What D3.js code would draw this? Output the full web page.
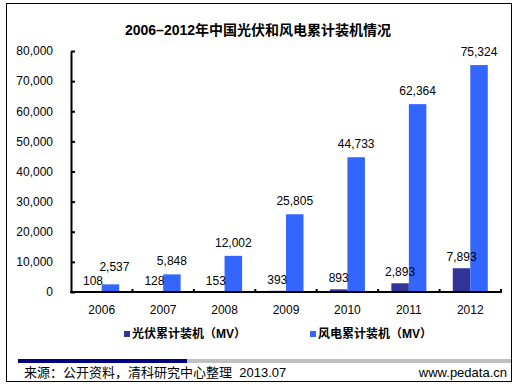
<!DOCTYPE html>
<html>
<head>
<meta charset="utf-8">
<script src="https://cdn.jsdelivr.net/npm/d3@7"></script>
<style>
  body { margin: 0; background: #fff; }
  text { font-family: "Liberation Sans", Arial, "Noto Sans CJK SC", sans-serif; fill: #000; }
  .cjk { font-family: "Liberation Sans", "Noto Sans CJK SC", sans-serif; }
</style>
</head>
<body>
<div id="chart"></div>
<script>
"use strict";

const years = ["2006", "2007", "2008", "2009", "2010", "2011", "2012"];
const solar = [108, 128, 153, 393, 893, 2893, 7893];
const wind = [2537, 5848, 12002, 25805, 44733, 62364, 75324];
const seriesNames = ["光伏累计装机（MV）", "风电累计装机（MV）"];
const seriesColors = ["#333399", "#3366ff"];
const yTicks = [0, 10000, 20000, 30000, 40000, 50000, 60000, 70000, 80000];

const W = 516, H = 389;
const svg = d3.select("#chart").append("svg")
  .attr("width", W).attr("height", H);

// outer frame
svg.append("rect")
  .attr("x", 6.5).attr("y", 3.5)
  .attr("width", 505).attr("height", 378)
  .attr("fill", "none").attr("stroke", "#000").attr("stroke-width", 1);

svg.append("text")
  .attr("class", "cjk")
  .attr("x", 258).attr("y", 35)
  .attr("text-anchor", "middle")
  .style("font-size", "14px").style("font-weight", "bold")
  .text("2006–2012年中国光伏和风电累计装机情况");

const x0 = d3.scaleBand().domain(years).range([71, 501])
  .paddingInner(0.43).paddingOuter(0.215);
const x1 = d3.scaleBand().domain([0, 1]).range([0, x0.bandwidth()]);
const y = d3.scaleLinear().domain([0, 80000]).range([292, 51]);

// y axis
const yAxis = svg.append("g")
  .attr("transform", "translate(71,0)")
  .call(d3.axisLeft(y).tickValues(yTicks).tickFormat(d3.format(","))
    .tickSizeInner(-4).tickSizeOuter(0).tickPadding(18));
yAxis.select(".domain").attr("stroke-width", 2).attr("stroke", "#000");
yAxis.selectAll(".tick line").attr("stroke-width", 2);
yAxis.selectAll("text").style("font-size", "12px");

// bars
const groups = svg.append("g").selectAll("g")
  .data(years)
  .join("g")
  .attr("transform", d => `translate(${x0(d)},0)`);

groups.each(function(yr, i) {
  const g = d3.select(this);
  const vals = [solar[i], wind[i]];
  g.selectAll("rect")
    .data(vals)
    .join("rect")
    .attr("x", (v, k) => x1(k))
    .attr("y", v => y(v))
    .attr("width", x1.bandwidth())
    .attr("height", v => y(0) - y(v))
    .attr("fill", (v, k) => seriesColors[k]);

  const solarY = y(vals[0]) - 7;
  const windY = Math.min(y(vals[1]) - 9, solarY - 14);
  g.append("text")
    .attr("x", x1(0) + x1.bandwidth() / 2).attr("y", solarY)
    .attr("text-anchor", "middle").style("font-size", "12px")
    .text(d3.format(",")(vals[0]));
  g.append("text")
    .attr("x", x1(1) + x1.bandwidth() / 2 + (windY < y(vals[1]) - 9 ? 4 : 0))
    .attr("y", windY)
    .attr("text-anchor", "middle").style("font-size", "12px")
    .text(d3.format(",")(vals[1]));
});

// x axis
const xAxis = svg.append("g")
  .attr("transform", "translate(0,292)")
  .call(d3.axisBottom(x0).tickSize(0).tickPadding(13));
xAxis.select(".domain").remove();
xAxis.selectAll("text").style("font-size", "12px");
xAxis.append("line")
  .attr("x1", 70).attr("x2", 502)
  .attr("stroke", "#000").attr("stroke-width", 2);
xAxis.selectAll(".sep")
  .data(years)
  .join("line")
  .attr("class", "sep")
  .attr("x1", (d, i) => x0.range()[0] + (i + 1) * x0.step())
  .attr("x2", (d, i) => x0.range()[0] + (i + 1) * x0.step())
  .attr("y1", 0).attr("y2", -3)
  .attr("stroke", "#000").attr("stroke-width", 2);

// legend
const legendX = [124, 310];
seriesNames.forEach((name, k) => {
  svg.append("rect")
    .attr("x", legendX[k]).attr("y", 331)
    .attr("width", 6).attr("height", 6)
    .attr("fill", seriesColors[k]);
  svg.append("text")
    .attr("class", "cjk")
    .attr("x", legendX[k] + 8).attr("y", 338)
    .style("font-size", "12px").style("font-weight", "bold")
    .text(name);
});

// footer strip
svg.append("rect").attr("x", 187).attr("y", 359)
  .attr("width", 324).attr("height", 4).attr("fill", "#c0c0c0");
svg.append("rect").attr("x", 18).attr("y", 359)
  .attr("width", 169).attr("height", 4).attr("fill", "#000080");

svg.append("text")
  .attr("class", "cjk")
  .attr("x", 24).attr("y", 377)
  .style("font-size", "13px")
  .text("来源：公开资料，清科研究中心整理  2013.07")
  .attr("xml:space", "preserve");
svg.append("text")
  .attr("x", 507).attr("y", 377)
  .attr("text-anchor", "end")
  .style("font-size", "13px")
  .text("www.pedata.cn");
</script>
</body>
</html>
